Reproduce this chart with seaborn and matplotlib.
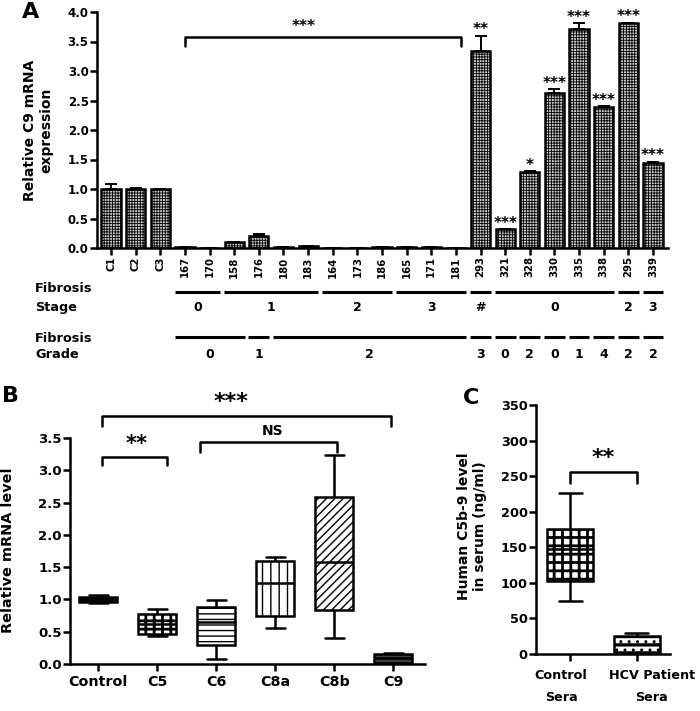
# C9 발현 그림 재현 (A: 막대, B/C: 박스플롯)
import numpy as np
import pandas as pd
import matplotlib
matplotlib.use("Agg")
import matplotlib.pyplot as plt
import matplotlib.transforms as mtransforms
from matplotlib.ticker import FormatStrFormatter
import seaborn as sns

# --- A 패널 데이터 ---
samples = ["C1", "C2", "C3", "167", "170", "158", "176", "180", "183", "164", "173", "186",
           "165", "171", "181", "293", "321", "328", "330", "335", "338", "295", "339"]
c9_expr = [1.00, 1.00, 1.00, 0.01, 0.005, 0.10, 0.21, 0.02, 0.03, 0.005, 0.005, 0.02,
           0.02, 0.02, 0.005, 3.34, 0.32, 1.28, 2.62, 3.72, 2.39, 3.81, 1.44]
c9_err = [0.09, 0.02, 0.0, 0.0, 0.0, 0.01, 0.02, 0.0, 0.0, 0.0, 0.0, 0.0,
          0.0, 0.0, 0.0, 0.26, 0.0, 0.02, 0.07, 0.09, 0.01, 0.01, 0.02]
c9_stars = ["", "", "", "", "", "", "", "", "", "", "", "",
            "", "", "", "**", "***", "*", "***", "***", "***", "***", "***"]

# (표시, 첫 샘플, 마지막 샘플)
stage_groups = [("0", "167", "170"), ("1", "158", "183"), ("2", "164", "186"),
                ("3", "165", "181"), ("#", "293", "293"), ("0", "321", "338"),
                ("2", "295", "295"), ("3", "339", "339")]
grade_groups = [("0", "167", "158"), ("1", "176", "176"), ("2", "180", "181"),
                ("3", "293", "293"), ("0", "321", "321"), ("2", "328", "328"),
                ("0", "330", "330"), ("1", "335", "335"), ("4", "338", "338"),
                ("2", "295", "295"), ("2", "339", "339")]

# --- B 패널 데이터 (최소, Q1, 중앙값, Q3, 최대) ---
genes = ["Control", "C5", "C6", "C8a", "C8b", "C9"]
gene_min = [0.95, 0.43, 0.07, 0.55, 0.41, 0.00]
gene_q1 = [0.96, 0.46, 0.29, 0.74, 0.83, 0.01]
gene_med = [1.00, 0.62, 0.65, 1.25, 1.58, 0.09]
gene_q3 = [1.04, 0.78, 0.88, 1.60, 2.58, 0.16]
gene_max = [1.07, 0.85, 0.99, 1.65, 3.23, 0.17]

# --- C 패널 데이터 ---
sera = ["Control\nSera", "HCV Patient\nSera"]
sera_min = [74, 1]
sera_q1 = [102, 3]
sera_med = [148, 14]
sera_q3 = [176, 25]
sera_max = [226, 29]

W, H = 700, 711


def px_rect(l, t, r, b):
    return [l / W, (H - b) / H, (r - l) / W, (b - t) / H]


def long_form(names, cols, key, val):
    rows = []
    for i, n in enumerate(names):
        for c in cols:
            rows.append({key: n, val: c[i]})
    return pd.DataFrame(rows)


def set_hatch(p, h, lw):
    p.set_hatch(h)
    if hasattr(p, "set_hatch_linewidth"):
        p.set_hatch_linewidth(lw)


sns.set_style("ticks")
plt.rcParams['font.family'] = ['DejaVu Sans']
plt.rcParams['font.weight'] = 'bold'
plt.rcParams['axes.labelweight'] = 'bold'
plt.rcParams['axes.linewidth'] = 1.8
plt.rcParams['hatch.linewidth'] = 0.8
for k in ['text.color', 'axes.labelcolor', 'xtick.color', 'ytick.color',
          'axes.edgecolor', 'xtick.labelcolor', 'ytick.labelcolor']:
    plt.rcParams[k] = 'black'

fig = plt.figure(figsize=(W / 100, H / 100), dpi=100)
fig.patch.set_facecolor("white")

# ================= A =================
axA = fig.add_axes(px_rect(97, 12, 668, 248))
sns.barplot(x=samples, y=c9_expr, ax=axA, color="0.8", edgecolor="black",
            linewidth=1.8, width=0.78, errorbar=None, saturation=1)
for p in axA.patches:
    set_hatch(p, "++++++", 0.6)
xs = np.arange(len(samples))
axA.errorbar(xs, c9_expr, yerr=[np.zeros(len(xs)), c9_err], fmt="none",
             ecolor="black", elinewidth=1.4, capsize=4, capthick=1.4)
for i, s in enumerate(c9_stars):
    if s:
        axA.annotate(s, (i, c9_expr[i] + c9_err[i]), xytext=(0, -1),
                     textcoords="offset points", ha="center", va="bottom",
                     fontsize=11)

# 대조군 vs 비교군 괄호
axA.plot([3, 3, 14.2, 14.2], [3.43, 3.58, 3.58, 3.43], color="black", lw=1.8, clip_on=False)
axA.text(7.8, 3.62, "***", ha="center", va="bottom", fontsize=11)

axA.set_xlim(-0.57, 22.61)
axA.set_ylim(0, 4)
axA.set_yticks(np.arange(0, 4.01, 0.5))
axA.yaxis.set_major_formatter(FormatStrFormatter("%.1f"))
axA.tick_params(axis="y", labelsize=8.5, length=5, width=1.8, pad=1)
axA.tick_params(axis="x", labelsize=7.3, length=5, width=1.8, pad=1, rotation=90)
axA.set_ylabel("Relative C9 mRNA\nexpression", fontsize=10)
axA.yaxis.set_label_coords(-0.077, 0.5)
axA.set_xlabel("")
sns.despine(ax=axA)

# Fibrosis Stage / Grade 표시
trans = mtransforms.blended_transform_factory(axA.transData, axA.transAxes)
for label, a, b in stage_groups:
    i0, i1 = samples.index(a), samples.index(b)
    axA.plot([i0 - 0.42, i1 + 0.42], [-0.186, -0.186], color="black", lw=2.2,
             transform=trans, clip_on=False, solid_capstyle="butt")
    axA.text((i0 + i1) / 2, -0.254, label, transform=trans, ha="center", va="center",
             fontsize=9)
for label, a, b in grade_groups:
    i0, i1 = samples.index(a), samples.index(b)
    axA.plot([i0 - 0.42, i1 + 0.42], [-0.377, -0.377], color="black", lw=2.2,
             transform=trans, clip_on=False, solid_capstyle="butt")
    axA.text((i0 + i1) / 2, -0.453, label, transform=trans, ha="center", va="center",
             fontsize=9)

fig.text(35 / W, (H - 289) / H, "Fibrosis", ha="left", va="center", fontsize=9.3)
fig.text(35 / W, (H - 308) / H, "Stage", ha="left", va="center", fontsize=9.3)
fig.text(35 / W, (H - 338) / H, "Fibrosis", ha="left", va="center", fontsize=9.3)
fig.text(35 / W, (H - 355) / H, "Grade", ha="left", va="center", fontsize=9.3)

# ================= B =================
axB = fig.add_axes(px_rect(70, 438, 425, 664))
df_b = long_form(genes, [gene_min, gene_q1, gene_med, gene_q3, gene_max], "gene", "level")
sns.boxplot(data=df_b, x="gene", y="level", ax=axB, whis=(0, 100), color="white",
            linecolor="black", linewidth=1.8, width=0.65, fliersize=0, saturation=1)
hatch_b = [("0.15", "xxxxxx", 0.8), ("white", "++", 2.0), ("white", "---", 1.0),
           ("white", "||", 1.0), ("white", "////", 1.0), ("0.25", "---", 1.0)]
for p, (fc, h, lw) in zip(axB.patches, hatch_b):
    p.set_facecolor(fc)
    set_hatch(p, h, lw)

axB.plot([0.07, 0.07, 4.97, 4.97], [3.69, 3.84, 3.84, 3.69], color="black", lw=1.8, clip_on=False)
axB.text(2.25, 3.9, "***", ha="center", va="bottom", fontsize=16)
axB.plot([0.07, 0.07, 1.16, 1.16], [3.08, 3.2, 3.2, 3.08], color="black", lw=1.8, clip_on=False)
axB.text(0.65, 3.25, "**", ha="center", va="bottom", fontsize=15)
axB.plot([1.72, 1.72, 4.05, 4.05], [3.29, 3.44, 3.44, 3.29], color="black", lw=1.8, clip_on=False)
axB.text(2.96, 3.5, "NS", ha="center", va="bottom", fontsize=10)

axB.set_xlim(-0.48, 5.54)
axB.set_ylim(0, 3.5)
axB.set_yticks(np.arange(0, 3.51, 0.5))
axB.yaxis.set_major_formatter(FormatStrFormatter("%.1f"))
axB.tick_params(axis="y", labelsize=9.5, length=5, width=1.8, pad=1)
axB.tick_params(axis="x", labelsize=10.3, length=5, width=1.8, pad=3)
axB.set_xlabel("")
axB.set_ylabel("Relative mRNA level", fontsize=10.4)
axB.yaxis.set_label_coords(-0.155, 0.504)
sns.despine(ax=axB)

# ================= C =================
axC = fig.add_axes(px_rect(536, 405, 670, 654))
df_c = long_form(sera, [sera_min, sera_q1, sera_med, sera_q3, sera_max], "group", "c5b9")
sns.boxplot(data=df_c, x="group", y="c5b9", ax=axC, whis=(0, 100), color="white",
            linecolor="black", linewidth=1.8, width=0.69, fliersize=0, saturation=1)
hatch_c = [("white", "++", 2.0), ("white", "--..", 1.0)]
for p, (fc, h, lw) in zip(axC.patches, hatch_c):
    p.set_facecolor(fc)
    set_hatch(p, h, lw)

axC.plot([0, 0, 1, 1], [240, 256, 256, 240], color="black", lw=1.8, clip_on=False)
axC.text(0.5, 262, "**", ha="center", va="bottom", fontsize=16)

axC.set_xlim(-0.51, 1.5)
axC.set_ylim(0, 350)
axC.set_yticks(np.arange(0, 351, 50))
axC.tick_params(axis="y", labelsize=9.3, length=5, width=1.8, pad=1)
axC.tick_params(axis="x", labelsize=9.2, length=5, width=1.8, pad=6)
# 라벨 간 겹침 방지: 좌우로 조금 이동
shifts = [-9, 15]
for t, dx in zip(axC.get_xticklabels(), shifts):
    t.set_linespacing(1.9)
    t.set_transform(t.get_transform() + mtransforms.ScaledTranslation(dx / 100, 0, fig.dpi_scale_trans))
axC.set_xlabel("")
axC.set_ylabel("Human C5b-9 level\nin serum (ng/ml)", fontsize=10)
axC.yaxis.set_label_coords(-0.366, 0.514)
sns.despine(ax=axC)

# 패널 문자
fig.text(22 / W, 1 - 2 / H, "A", ha="left", va="top", fontsize=16)
fig.text(2 / W, 1 - 386 / H, "B", ha="left", va="top", fontsize=16)
fig.text(463 / W, 1 - 388 / H, "C", ha="left", va="top", fontsize=16)

fig.savefig("out.png", dpi=100, facecolor="white")
